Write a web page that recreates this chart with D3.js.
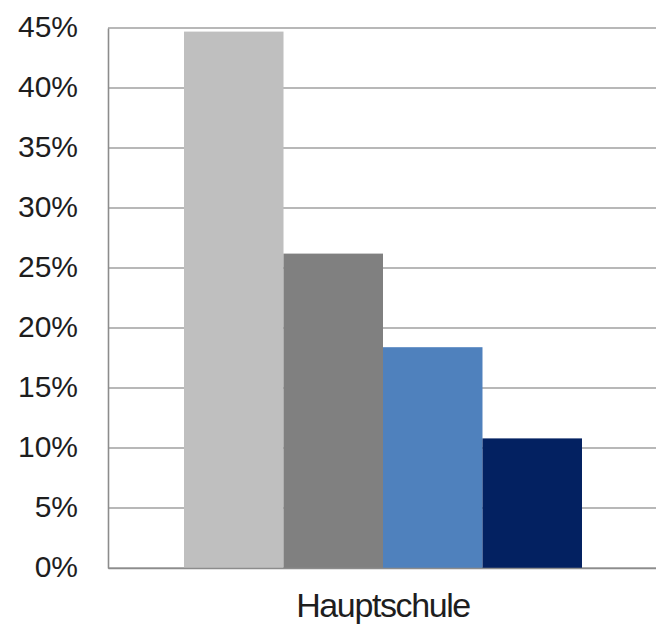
<!DOCTYPE html>
<html>
<head>
<meta charset="utf-8">
<script src="https://cdn.jsdelivr.net/npm/d3@7"></script>
<style>
  body { margin: 0; background: #fff; }
  text { font-family: "Liberation Sans", Arial, sans-serif; fill: #1e1e1e; }
</style>
</head>
<body>
<div id="chart"></div>
<script>
// data
const categories = ["Hauptschule"];
const series = ["Reihe 1", "Reihe 2", "Reihe 3", "Reihe 4"];
const values = [0.447, 0.262, 0.184, 0.108];
const colors = ["#bfbfbf", "#808080", "#4f81bd", "#032161"];
const yTicks = [0, 0.05, 0.10, 0.15, 0.20, 0.25, 0.30, 0.35, 0.40, 0.45];

const width = 656, height = 625;
const margin = {top: 28, right: -2, bottom: 57, left: 108};

let svg = d3.select("#chart")
    .append("svg")
    .attr("width", width)
    .attr("height", height)
    .append("g")
    .attr("transform", `translate(${margin.left}, ${margin.top})`);

const innerW = width - margin.left - margin.right;
const innerH = height - margin.top - margin.bottom;

let y = d3.scaleLinear()
    .domain([0, 0.45])
    .range([innerH, 0]);

let x0 = d3.scaleBand()
    .domain(categories)
    .range([0, innerW])
    .paddingInner(0)
    .paddingOuter(0.191);

let x1 = d3.scaleBand()
    .domain(series)
    .range([0, x0.bandwidth()])
    .padding(0);

// gridlines
svg.append("g")
    .selectAll("line")
    .data(yTicks)
    .join("line")
    .attr("x1", 0)
    .attr("x2", innerW)
    .attr("y1", d => y(d))
    .attr("y2", d => y(d))
    .attr("stroke", "#a0a0a0")
    .attr("stroke-width", 1.6);

// bars
svg.append("g")
    .selectAll("rect")
    .data(values)
    .join("rect")
    .attr("x", (d, i) => x0(categories[0]) + x1(series[i]))
    .attr("width", x1.bandwidth())
    .attr("y", d => y(d))
    .attr("height", d => innerH - y(d))
    .attr("fill", (d, i) => colors[i]);

// y axis
let yAxis = svg.append("g")
    .call(d3.axisLeft(y).tickValues(yTicks).tickFormat(d3.format(".0%")).tickSize(0).tickPadding(30));
yAxis.select(".domain").attr("stroke", "#8c8c8c").attr("stroke-width", 1.6);
yAxis.selectAll("text")
    .style("font-size", "30px")
    .attr("dy", "0.28em");

// x axis
let xAxis = svg.append("g")
    .attr("transform", `translate(0, ${innerH})`)
    .call(d3.axisBottom(x0).tickSize(0).tickPadding(25));
xAxis.select(".domain").attr("stroke", "#8c8c8c").attr("stroke-width", 1.6);
xAxis.selectAll("text")
    .style("font-size", "34px")
    .style("letter-spacing", "-1.4px");
</script>
</body>
</html>
